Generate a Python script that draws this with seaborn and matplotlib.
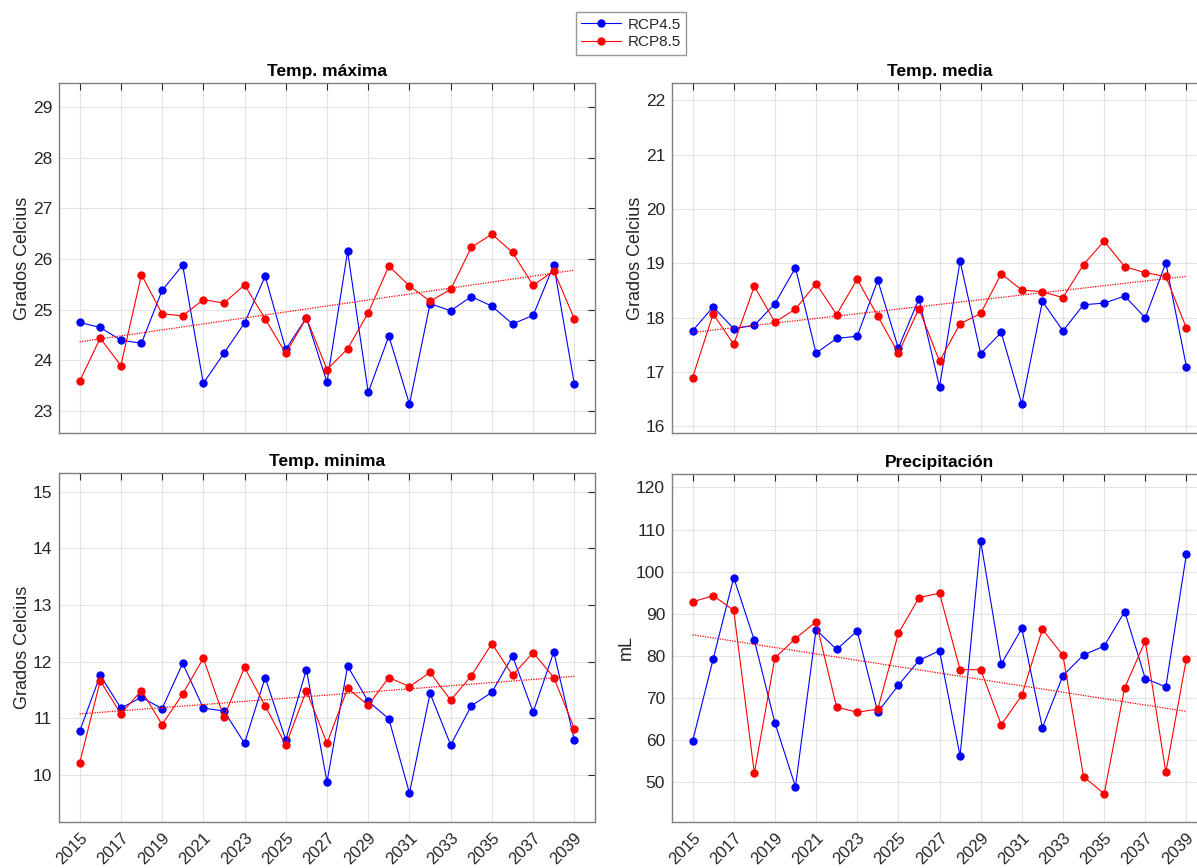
import numpy as np
import pandas as pd
import matplotlib
matplotlib.use("Agg")
import matplotlib.pyplot as plt
import seaborn as sns

years = list(range(2015, 2040))

tmax_rcp45 = [24.75, 24.65, 24.40, 24.34, 25.38, 25.88, 23.55, 24.14, 24.74, 25.66, 24.22, 24.84, 23.57,
              26.15, 23.37, 24.48, 23.14, 25.12, 24.98, 25.26, 25.07, 24.72, 24.89, 25.88, 23.53]
tmax_rcp85 = [23.59, 24.44, 23.90, 25.69, 24.92, 24.88, 25.20, 25.13, 25.49, 24.82, 24.14, 24.84, 23.82,
              24.23, 24.94, 25.86, 25.47, 25.17, 25.40, 26.23, 26.49, 26.13, 25.48, 25.77, 24.82]

tmed_rcp45 = [17.76, 18.20, 17.80, 17.86, 18.26, 18.92, 17.35, 17.62, 17.66, 18.69, 17.44, 18.35, 16.73,
              19.04, 17.34, 17.73, 16.41, 18.30, 17.76, 18.24, 18.27, 18.40, 18.00, 19.01, 17.10]
tmed_rcp85 = [16.90, 18.07, 17.51, 18.58, 17.92, 18.16, 18.63, 18.06, 18.71, 18.03, 17.35, 18.17, 17.20,
              17.89, 18.08, 18.81, 18.51, 18.48, 18.37, 18.98, 19.41, 18.94, 18.83, 18.76, 17.81]

tmin_rcp45 = [10.77, 11.76, 11.18, 11.37, 11.17, 11.97, 11.18, 11.13, 10.56, 11.72, 10.62, 11.86, 9.88,
              11.92, 11.30, 10.99, 9.68, 11.44, 10.53, 11.22, 11.46, 12.10, 11.11, 12.17, 10.61]
tmin_rcp85 = [10.21, 11.66, 11.08, 11.49, 10.89, 11.43, 12.06, 11.02, 11.90, 11.22, 10.53, 11.49, 10.56,
              11.53, 11.23, 11.72, 11.56, 11.81, 11.32, 11.75, 12.32, 11.76, 12.16, 11.72, 10.82]

prec_rcp45 = [59.7, 79.2, 98.6, 83.7, 64.1, 48.9, 86.2, 81.5, 85.9, 66.6, 73.0, 78.9, 81.2,
              56.2, 107.3, 78.0, 86.5, 62.9, 75.3, 80.2, 82.3, 90.5, 74.6, 72.6, 104.2]
prec_rcp85 = [92.8, 94.3, 90.8, 52.1, 79.5, 84.1, 88.1, 67.8, 66.6, 67.3, 85.3, 93.8, 94.9,
              76.7, 76.7, 63.6, 70.6, 86.3, 80.1, 51.3, 47.2, 72.4, 83.5, 52.3, 79.3]

titles = ["Temp. máxima", "Temp. media", "Temp. minima", "Precipitación"]
ylabels = ["Grados Celcius", "Grados Celcius", "Grados Celcius", "mL"]
series_names = ["RCP4.5", "RCP8.5"]
ylims = [(22.57, 29.47), (15.88, 22.32), (9.17, 15.33), (40.5, 123.2)]
yticks = [list(range(23, 30)), list(range(16, 23)), list(range(10, 16)), list(range(50, 121, 10))]
xticks = list(range(2015, 2040, 2))

data_sets = [(tmax_rcp45, tmax_rcp85), (tmed_rcp45, tmed_rcp85),
             (tmin_rcp45, tmin_rcp85), (prec_rcp45, prec_rcp85)]

sns.set_style("white")
plt.rcParams['font.family'] = ['Liberation Sans', 'DejaVu Sans']

W, H = 1197, 868
fig = plt.figure(figsize=(W / 100, H / 100), dpi=100)

def px(l, t, r, b):
    return [l / W, (H - b) / H, (r - l) / W, (b - t) / H]

positions = [px(59, 83, 595, 433), px(672, 83, 1207, 433),
             px(59, 473, 595, 822), px(672, 474, 1207, 822)]

colors = ["#0000ff", "#ff0000"]
edge = "#262626"
handles = None
for i, (pos, (s45, s85)) in enumerate(zip(positions, data_sets)):
    ax = fig.add_axes(pos)
    df = pd.DataFrame({"year": years * 2,
                       "value": list(s45) + list(s85),
                       "scenario": [series_names[0]] * len(years) + [series_names[1]] * len(years)})
    sns.lineplot(data=df, x="year", y="value", hue="scenario", palette=colors,
                 marker="o", markersize=6, markeredgewidth=0, linewidth=0.8,
                 ax=ax, legend=(i == 0))
    # linear trend of RCP8.5
    coef = np.polyfit(years, s85, 1)
    trend = np.polyval(coef, years)
    ax.plot([years[0], years[-1]], [trend[0], trend[-1]], linestyle=(0, (1, 1)),
            color="#ff0000", linewidth=0.9)
    if i == 0:
        handles, labels = ax.get_legend_handles_labels()
        ax.get_legend().remove()
    ax.set_xlim(2014, 2040)
    ax.set_ylim(*ylims[i])
    ax.set_xticks(xticks)
    ax.set_yticks(yticks[i])
    ax.grid(True, color="#e3e3e3", linewidth=0.8)
    ax.set_axisbelow(True)
    for sp in ax.spines.values():
        sp.set_color("#7f7f7f")
        sp.set_linewidth(1.0)
        sp.set_visible(True)
    ax.tick_params(axis="both", direction="in", length=5, width=0.8, color=edge,
                   top=True, right=True, labelsize=12.5, labelcolor=edge, pad=5)
    if i < 2:
        ax.set_xticklabels([])
    else:
        ax.set_xticklabels([str(y) for y in xticks], rotation=45, ha="right",
                           va="top", rotation_mode="anchor", fontsize=12)
        ax.tick_params(axis="x", pad=6)
    ax.set_xlabel("")
    ax.set_ylabel(ylabels[i], fontsize=13, color=edge, labelpad=1)
    ax.set_title(titles[i], fontsize=12.5, fontweight="bold", color="black", pad=5)

leg = fig.legend(handles, series_names, loc="center", bbox_to_anchor=(631 / W, 1 - 33.5 / H),
                 fontsize=11, frameon=True, fancybox=False, handlelength=2.6,
                 borderpad=0.35, labelspacing=0.25, handletextpad=0.4, borderaxespad=0)
leg.get_frame().set_edgecolor("#7f7f7f")
leg.get_frame().set_linewidth(1.0)

fig.savefig("out.png", dpi=100)
